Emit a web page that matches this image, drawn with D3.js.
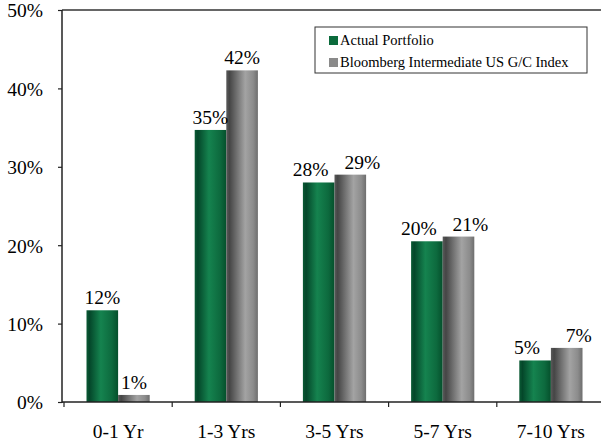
<!DOCTYPE html>
<html>
<head>
<meta charset="utf-8">
<script src="https://cdn.jsdelivr.net/npm/d3@7"></script>
<style>
  body { margin: 0; background: #fff; }
  svg text { font-family: "Liberation Serif", serif; fill: #000; }
</style>
</head>
<body>
<div id="chart"></div>
<script>
var categories = ["0-1 Yr", "1-3 Yrs", "3-5 Yrs", "5-7 Yrs", "7-10 Yrs"];
var series = ["Actual Portfolio", "Bloomberg Intermediate US G/C Index"];
var portfolio = [11.7, 34.7, 28.0, 20.5, 5.3];
var index = [0.9, 42.3, 29.0, 21.1, 6.9];
var portfolioLabels = ["12%", "35%", "28%", "20%", "5%"];
var indexLabels = ["1%", "42%", "29%", "21%", "7%"];
var yTicks = [0, 10, 20, 30, 40, 50];

var W = 601, H = 442;
var svg = d3.select("#chart").append("svg")
  .attr("width", W).attr("height", H)
  .attr("font-family", "Liberation Serif, serif");

var defs = svg.append("defs");
function grad(id, stops) {
  var g = defs.append("linearGradient").attr("id", id)
    .attr("x1", "0%").attr("x2", "100%").attr("y1", "0%").attr("y2", "0%");
  stops.forEach(function(s) {
    g.append("stop").attr("offset", s[0]).attr("stop-color", s[1]);
  });
}
grad("gGreen", [["0%", "#0a5a34"], ["10%", "#04472a"], ["45%", "#15834f"], ["80%", "#0d6a3e"], ["100%", "#05502c"]]);
grad("gGray", [["0%", "#5a5a5a"], ["10%", "#454545"], ["60%", "#a3a3a3"], ["85%", "#8c8c8c"], ["100%", "#6e6e6e"]]);

var y = d3.scaleLinear().domain([0, 50]).range([402, 10]);
var x0 = d3.scaleBand().domain(categories).range([64, 605]);
var bw = x0.bandwidth();
var x1 = d3.scaleBand().domain(series).range([22.5, bw - 22.5]);

// top frame line
svg.append("line").attr("x1", 62).attr("x2", W).attr("y1", y(50)).attr("y2", y(50))
  .attr("stroke", "#333").attr("stroke-width", 1.5);

// y axis
var yAxis = d3.axisLeft(y).tickValues(yTicks).tickFormat(function(d) { return d + "%"; })
  .tickSize(4).tickPadding(15);
var gy = svg.append("g").attr("transform", "translate(62,0)").call(yAxis)
  .attr("font-family", null).attr("font-size", null);
gy.select(".domain").remove();
gy.append("line").attr("x1", 0).attr("x2", 0).attr("y1", y(50)).attr("y2", y(0) + 1)
  .attr("stroke", "#222").attr("stroke-width", 1.5);
gy.selectAll(".tick line").attr("stroke", "#222").attr("stroke-width", 1.2);
gy.selectAll(".tick text").style("font-size", "19.5px").attr("dy", "0.35em");

// bars
var rows = categories.map(function(c, i) {
  return [
    {cat: c, s: series[0], v: portfolio[i], o: index[i], lab: portfolioLabels[i], fill: "url(#gGreen)", side: -1},
    {cat: c, s: series[1], v: index[i], o: portfolio[i], lab: indexLabels[i], fill: "url(#gGray)", side: 1}
  ];
});
var groups = svg.selectAll("g.cat").data(rows).enter().append("g")
  .attr("class", "cat")
  .attr("transform", function(d) { return "translate(" + x0(d[0].cat) + ",0)"; });
groups.selectAll("rect").data(function(d) { return d; }).enter().append("rect")
  .attr("x", function(d) { return x1(d.s); })
  .attr("width", x1.bandwidth())
  .attr("y", function(d) { return y(d.v); })
  .attr("height", function(d) { return y(0) - y(d.v); })
  .attr("fill", function(d) { return d.fill; });
// labels of close bars are pushed apart
groups.selectAll("text").data(function(d) { return d; }).enter().append("text")
  .attr("x", function(d) {
    var cx = x1(d.s) + x1.bandwidth() / 2;
    var close = Math.abs(y(d.v) - y(d.o)) < 20;
    if (close) cx += d.side < 0 ? -8 : 12;
    return cx;
  })
  .attr("y", function(d) { return y(d.v) - 6; })
  .attr("text-anchor", "middle")
  .style("font-size", "19.5px")
  .text(function(d) { return d.lab; });

// x axis
var xAxis = d3.axisBottom(x0).tickSize(0).tickPadding(22);
var gx = svg.append("g").attr("transform", "translate(0," + y(0) + ")").call(xAxis)
  .attr("font-family", null).attr("font-size", null);
gx.select(".domain").remove();
gx.append("line").attr("x1", 62).attr("x2", W).attr("y1", 0).attr("y2", 0)
  .attr("stroke", "#222").attr("stroke-width", 1.5);
gx.selectAll(".tick text").style("font-size", "19.5px");
var bounds = x0.domain().map(function(c) { return x0(c); }).concat([x0.range()[1]]);
gx.selectAll("line.sep").data(bounds).enter().append("line").attr("class", "sep")
  .attr("x1", function(d) { return d; }).attr("x2", function(d) { return d; })
  .attr("y1", 0).attr("y2", 5).attr("stroke", "#222").attr("stroke-width", 1.2);

// legend
var lg = svg.append("g").attr("transform", "translate(315,27)");
lg.append("rect").attr("width", 272).attr("height", 46)
  .attr("fill", "#fff").attr("stroke", "#333").attr("stroke-width", 1);
var li = lg.selectAll("g.li").data(series).enter().append("g").attr("class", "li")
  .attr("transform", function(d, i) { return "translate(14," + (9 + i * 22) + ")"; });
li.append("rect").attr("width", 9).attr("height", 9)
  .attr("fill", function(d, i) { return i === 0 ? "#0b6b3c" : "#8a8a8a"; });
li.append("text").attr("x", 11).attr("y", 9).style("font-size", "14.5px")
  .text(function(d) { return d; });
</script>
</body>
</html>
